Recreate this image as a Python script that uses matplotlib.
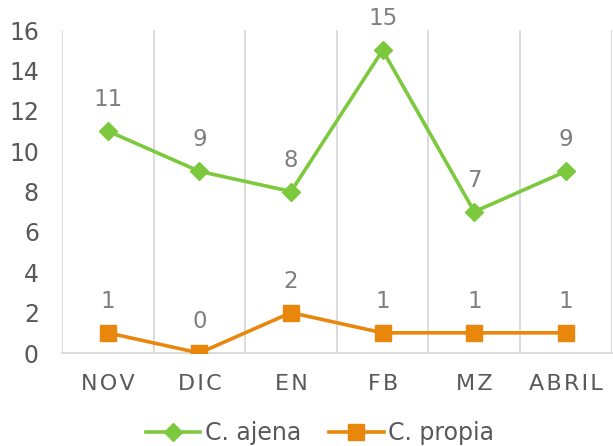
import numpy as np
import matplotlib
matplotlib.use("Agg")
import matplotlib.pyplot as plt

months = ["NOV", "DIC", "EN", "FB", "MZ", "ABRIL"]
ajena = [11, 9, 8, 15, 7, 9]
propia = [1, 0, 2, 1, 1, 1]

GREEN = "#7cc93e"
ORANGE = "#e8870c"
TEXT = "#595959"
LABEL = "#7f7f7f"
GRID = "#d9d9d9"

plt.rcParams["font.family"] = ["DejaVu Sans"]

fig = plt.figure(figsize=(6.13, 4.46), dpi=100)
ax = fig.add_axes([0.101, 0.2085, 0.897, 0.7242])

x = np.arange(len(months))
ax.plot(x, ajena, color=GREEN, lw=2.6, marker="D", ms=9.5, label="C. ajena", zorder=3)
ax.plot(x, propia, color=ORANGE, lw=2.6, marker="s", ms=12, label="C. propia", zorder=3)

# data labels above points
for series in (ajena, propia):
    for xi, v in zip(x, series):
        ax.annotate(str(v), (xi, v), xytext=(0, 18), textcoords="offset points",
                    ha="center", va="baseline", fontsize=16.5, color=LABEL)

ax.set_xlim(-0.5, len(months) - 0.5)
ax.set_ylim(0, 16)
ax.set_yticks(np.arange(0, 17, 2))
ax.set_xticks(x)
ax.set_xticklabels(["\u200a".join(m) for m in months])
ax.set_xticks(np.arange(-0.5, len(months), 1), minor=True)
ax.grid(which="minor", axis="x", color=GRID, lw=1.3)
ax.tick_params(axis="both", which="both", length=0)
ax.tick_params(axis="y", labelsize=17, labelcolor=TEXT, pad=16.5)
ax.tick_params(axis="x", labelsize=16, labelcolor=TEXT, pad=15)

for side in ["left", "right", "top"]:
    ax.spines[side].set_visible(False)
ax.spines["bottom"].set_color(GRID)
ax.spines["bottom"].set_linewidth(1.3)

leg = fig.legend(loc="center", bbox_to_anchor=(0.522, 0.029), ncol=2, frameon=False,
                 fontsize=17, handlelength=2.3, handletextpad=0.2, columnspacing=1.2)
for t in leg.get_texts():
    t.set_color(TEXT)

fig.savefig("out.png", dpi=100)
